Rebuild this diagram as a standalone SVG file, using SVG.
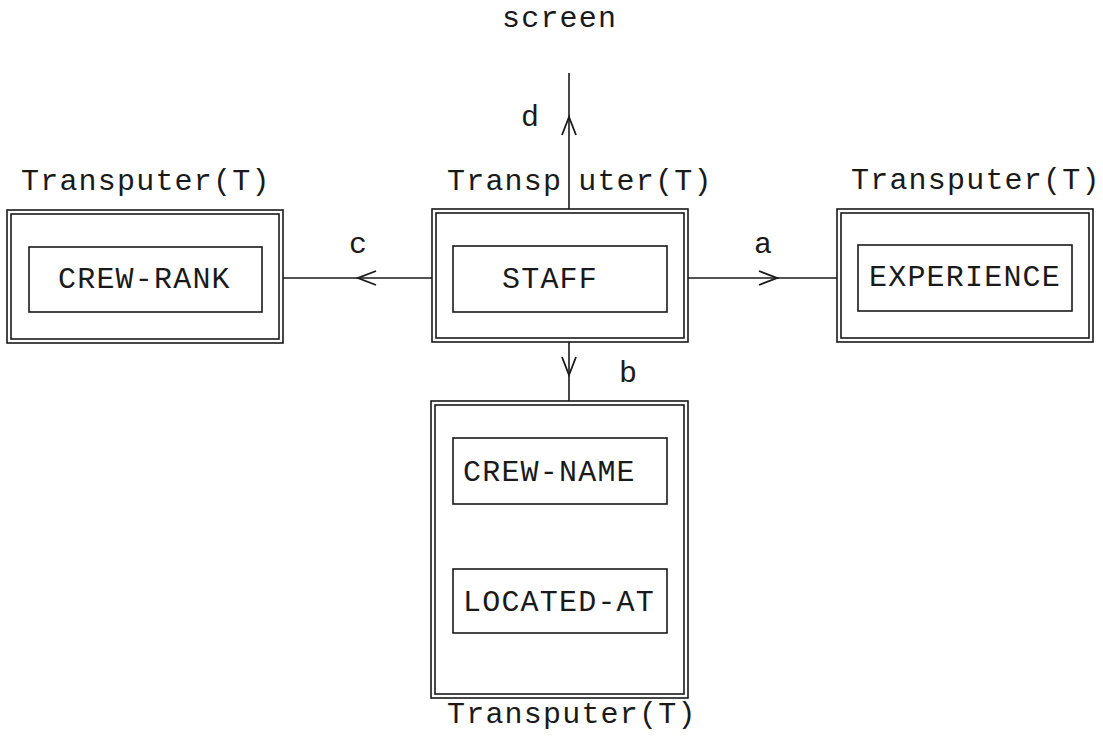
<svg xmlns="http://www.w3.org/2000/svg" width="1103" height="746" viewBox="0 0 1103 746">
<defs>
<style>
.bg{fill:#ffffff}
.box{fill:none;stroke:#1a1a1a;stroke-width:1.6}
.ln{fill:none;stroke:#1a1a1a;stroke-width:1.6}
.t{font-family:"Liberation Mono","DejaVu Sans Mono",monospace;font-size:30px;letter-spacing:1.2px;fill:#1a1a1a}
</style>
<marker id="v" viewBox="-20 -10 22 20" refX="0" refY="0" markerWidth="22" markerHeight="20" markerUnits="userSpaceOnUse" orient="auto">
<path d="M-18,-7 L0,0 L-18,7" fill="none" stroke="#1a1a1a" stroke-width="1.8"/>
</marker>
</defs>
<rect class="bg" x="0" y="0" width="1103" height="746"/>
<text class="t" x="502" y="27">screen</text>
<g id="connectors">
<path class="ln" d="M569,209 L569,117 L569,73" marker-mid="url(#v)"/>
<path class="ln" d="M569,342 L569,375 L569,401" marker-mid="url(#v)"/>
<path class="ln" d="M432,278 L358,278 L283,278" marker-mid="url(#v)"/>
<path class="ln" d="M688,278 L777,278 L837,278" marker-mid="url(#v)"/>
<text class="t" x="521" y="126">d</text>
<text class="t" x="619" y="382">b</text>
<text class="t" x="349" y="253">c</text>
<text class="t" x="754" y="253">a</text>
</g>
<g id="node-crew-rank">
<text class="t" x="21" y="190">Transputer(T)</text>
<rect class="box" x="7" y="210" width="276" height="133"/>
<rect class="box" x="11" y="214" width="268" height="125"/>
<rect class="box" x="29" y="247" width="233" height="65"/>
<text class="t" x="58" y="288">CREW-RANK</text>
</g>
<g id="node-staff">
<text class="t" x="447" y="190">Transp<tspan dx="16">uter(T)</tspan></text>
<rect class="box" x="432" y="209" width="256" height="133"/>
<rect class="box" x="436" y="213" width="248" height="125"/>
<rect class="box" x="453" y="246" width="214" height="66"/>
<text class="t" x="502" y="288">STAFF</text>
</g>
<g id="node-experience">
<text class="t" x="851" y="189">Transputer(T)</text>
<rect class="box" x="837" y="209" width="256" height="133"/>
<rect class="box" x="841" y="213" width="248" height="125"/>
<rect class="box" x="858" y="245" width="214" height="66"/>
<text class="t" x="869" y="286">EXPERIENCE</text>
</g>
<g id="node-crew-name">
<rect class="box" x="431" y="401" width="257" height="297"/>
<rect class="box" x="435" y="405" width="249" height="289"/>
<rect class="box" x="453" y="438" width="214" height="66"/>
<text class="t" x="463" y="481">CREW-NAME</text>
<rect class="box" x="453" y="569" width="214" height="64"/>
<text class="t" x="463" y="611">LOCATED-AT</text>
<text class="t" x="447" y="723">Transputer(T)</text>
</g>
</svg>
